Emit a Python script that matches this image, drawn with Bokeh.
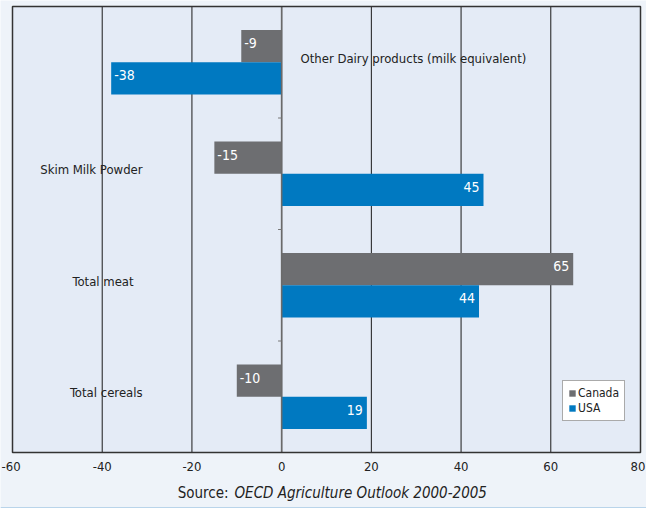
from bokeh.plotting import figure
from bokeh.models import Range1d, Legend, LegendItem, ColumnDataSource
from bokeh.embed import file_html
from bokeh.resources import INLINE
from bokeh.core.properties import value

categories = ["Other Dairy products (milk equivalent)", "Skim Milk Powder", "Total meat", "Total cereals"]
canada = [-9, -15, 65, -10]
usa = [-38, 45, 44, 19]
x_ticks = [-60, -40, -20, 0, 20, 40, 60, 80]
series_names = ["Canada", "USA"]
source_prefix = "Source:"
source_title = "OECD Agriculture Outlook 2000-2005"

FONT = "DejaVu Sans Condensed"
GRAY = "#6d6e71"
BLUE = "#0079c1"
PLOT_BG = "#e4ebf6"
OUTER_BG = "#eef3f9"
TXT = "#222222"

W, H = 646, 508
frame_l, frame_r, frame_t, frame_b = 12, 640, 6, 452   # pixel box of the chart area
n = len(categories)
xmin, xmax = x_ticks[0], x_ticks[-1]
ppx = (frame_r - frame_l) / (xmax - xmin)
ppy = (frame_b - frame_t) / n
x_start = xmin - frame_l / ppx
x_end = xmax + (W - frame_r) / ppx
y_start = -(H - frame_b) / ppy
y_end = n + frame_t / ppy

centers = [n - i - 0.5 for i in range(n)]
off = 0.145
bh = 0.29

p = figure(width=W, height=H, output_backend="svg", toolbar_location=None,
           x_range=Range1d(x_start, x_end), y_range=Range1d(y_start, y_end),
           x_axis_location=None, y_axis_location=None,
           min_border_left=0, min_border_right=0, min_border_top=0, min_border_bottom=0)
p.background_fill_color = OUTER_BG
p.border_fill_color = OUTER_BG
p.outline_line_color = None
p.grid.visible = False

# chart area
p.quad(left=[xmin], right=[xmax], bottom=[0], top=[n], fill_color=PLOT_BG, line_color=None)

# vertical grid lines
inner = x_ticks[1:-1]
p.segment(x0=inner, x1=inner, y0=[0] * len(inner), y1=[n] * len(inner),
          line_color="#1a1a1a", line_width=1)

src_c = ColumnDataSource(dict(y=[c + off for c in centers], x=canada,
                              lab=[str(v) for v in canada],
                              align=["left" if v < 0 else "right" for v in canada],
                              xo=[3 if v < 0 else -4 for v in canada]))
src_u = ColumnDataSource(dict(y=[c - off for c in centers], x=usa,
                              lab=[str(v) for v in usa],
                              align=["left" if v < 0 else "right" for v in usa],
                              xo=[3 if v < 0 else -4 for v in usa]))

rc = p.hbar(y="y", left=0, right="x", height=bh, source=src_c, fill_color=GRAY, line_color=None)
ru = p.hbar(y="y", left=0, right="x", height=bh, source=src_u, fill_color=BLUE, line_color=None)

# zero axis line and its small ticks at category boundaries
p.segment(x0=[0], x1=[0], y0=[0], y1=[n], line_color="#6a6a6a", line_width=1.6)
p.segment(x0=[-0.8] * (n - 1), x1=[0] * (n - 1), y0=list(range(1, n)), y1=list(range(1, n)),
          line_color="#777777", line_width=1)

# chart area border
p.quad(left=[xmin], right=[xmax], bottom=[0], top=[n], fill_color=None,
       line_color="#333333", line_width=1.5)

for s in (src_c, src_u):
    p.text(x="x", y="y", text="lab", source=s, text_align="align", x_offset="xo",
           y_offset=-3, text_baseline="middle", text_color="white", text_font=value(FONT),
           text_font_size="14px")

label_x = [4.2, -31, -33, -31]
label_align = ["left", "right", "right", "right"]
p.text(x=label_x, y=centers, text=categories, text_align=label_align, text_baseline="middle",
       y_offset=-4, text_color=TXT, text_font=value(FONT), text_font_size="13px")

# x tick labels (the outermost ones kept inside the page)
tick_align = ["left"] + ["center"] * (len(x_ticks) - 2) + ["right"]
tick_xo = [-11] + [0] * (len(x_ticks) - 2) + [5]
p.text(x=x_ticks, y=[0] * len(x_ticks), text=[str(t) for t in x_ticks], text_align=tick_align,
       x_offset=tick_xo, text_baseline="middle", y_offset=14, text_color=TXT,
       text_font=value(FONT), text_font_size="13px")

# source line
src_y = 0
p.text(x=[xmin + (228 - frame_l) / ppx], y=[src_y], text=[source_prefix], text_align="right",
       text_baseline="middle", y_offset=40, text_color=TXT, text_font=value(FONT),
       text_font_size="15px")
p.text(x=[xmin + (234 - frame_l) / ppx], y=[src_y], text=[source_title], text_align="left",
       text_baseline="middle", y_offset=40, text_color=TXT, text_font=value(FONT),
       text_font_style="italic", text_font_size="15px")

# thin light-blue line at the very bottom
p.segment(x0=[x_start], x1=[x_end], y0=[y_start], y1=[y_start], line_color="#b9d4ea", line_width=3)

legend = Legend(items=[LegendItem(label=series_names[0], renderers=[rc]),
                       LegendItem(label=series_names[1], renderers=[ru])],
                location=(562, H - 421), background_fill_color="white", background_fill_alpha=1,
                border_line_color="#555555", border_line_width=1,
                label_text_font=FONT, label_text_font_size="12px", label_text_color=TXT,
                glyph_width=8, glyph_height=8, label_height=14, label_standoff=2,
                spacing=1, padding=5, margin=0)
p.add_layout(legend)

open("out.html", "w").write(file_html(p, INLINE))
